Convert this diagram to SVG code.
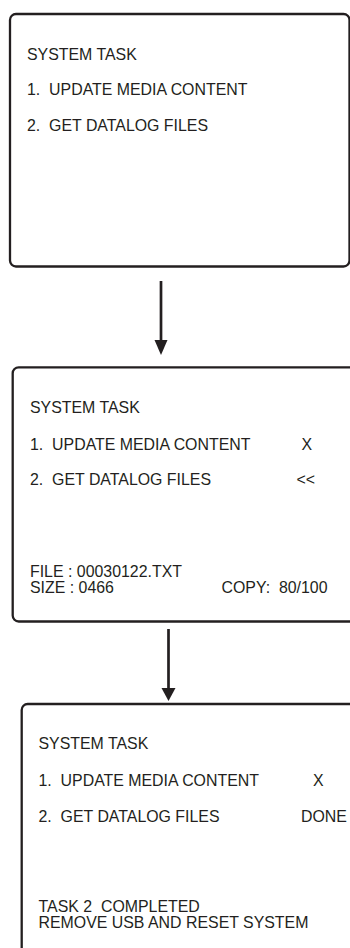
<svg xmlns="http://www.w3.org/2000/svg" width="350" height="948" viewBox="0 0 350 948">
<style>
.box{fill:#fff;stroke:#231f20;stroke-width:2.3}
.t{font-family:"Liberation Sans",Arial,sans-serif;font-size:15.9px;fill:#231f20;white-space:pre}
.ln{stroke:#231f20;stroke-width:2.7;fill:none}
.hd{fill:#231f20}
</style>
<rect width="350" height="948" fill="#fff"/>
<g id="screen1">
<rect class="box" x="10" y="14" width="339.5" height="252.5" rx="6"/>
<text class="t" x="27" y="60">SYSTEM TASK</text>
<text class="t" x="27" y="95" xml:space="preserve">1.  UPDATE MEDIA CONTENT</text>
<text class="t" x="27" y="131" xml:space="preserve">2.  GET DATALOG FILES</text>
</g>
<g id="screen2">
<rect class="box" x="12.7" y="367.3" width="345" height="254.2" rx="6"/>
<text class="t" x="30" y="413">SYSTEM TASK</text>
<text class="t" x="30" y="450" xml:space="preserve">1.  UPDATE MEDIA CONTENT</text>
<text class="t" x="301.5" y="450">X</text>
<text class="t" x="30" y="485" xml:space="preserve">2.  GET DATALOG FILES</text>
<text class="t" x="296.5" y="485">&lt;&lt;</text>
<text class="t" x="30" y="577">FILE : 00030122.TXT</text>
<text class="t" x="30" y="593">SIZE : 0466</text>
<text class="t" x="221.5" y="593" xml:space="preserve">COPY:  80/100</text>
</g>
<g id="screen3">
<rect class="box" x="21.7" y="704" width="345" height="270" rx="6"/>
<text class="t" x="38.5" y="749">SYSTEM TASK</text>
<text class="t" x="38.5" y="786" xml:space="preserve">1.  UPDATE MEDIA CONTENT</text>
<text class="t" x="313" y="786">X</text>
<text class="t" x="38.5" y="821.5" xml:space="preserve">2.  GET DATALOG FILES</text>
<text class="t" x="301" y="821.5">DONE</text>
<text class="t" x="38.5" y="911.5" xml:space="preserve">TASK 2  COMPLETED</text>
<text class="t" x="38.5" y="928.3">REMOVE USB AND RESET SYSTEM</text>
</g>
<g id="connectors">
<line class="ln" x1="161" y1="281" x2="161" y2="341"/>
<polygon class="hd" points="154.5,340 167.5,340 161,355"/>
<line class="ln" x1="168.5" y1="629" x2="168.5" y2="689"/>
<polygon class="hd" points="161.5,688 175.5,688 168.5,701"/>
</g>
</svg>
